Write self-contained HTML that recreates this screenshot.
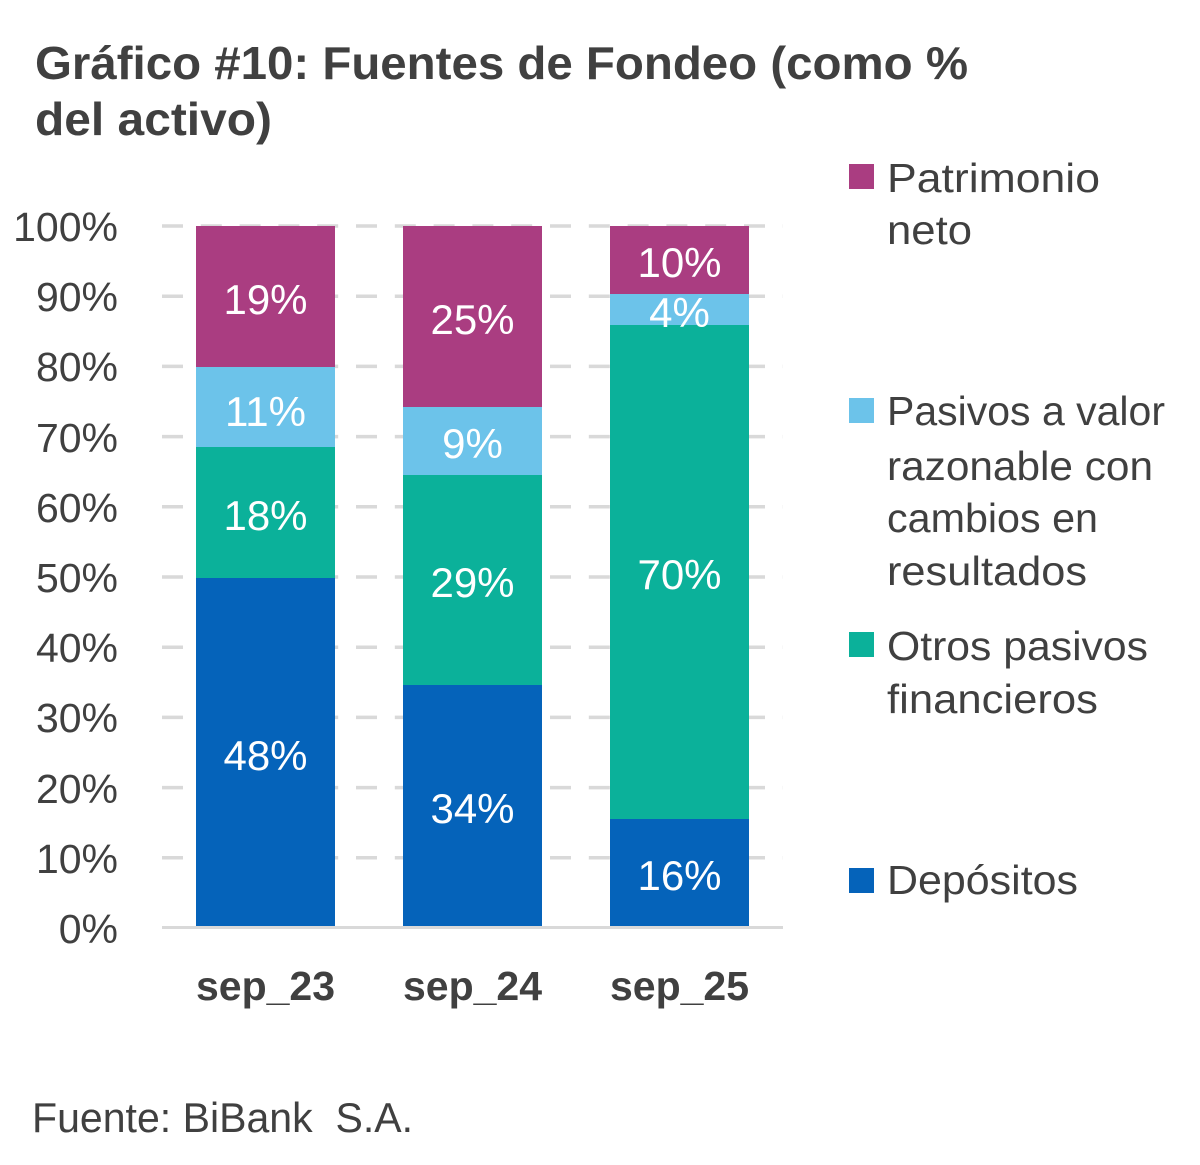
<!DOCTYPE html>
<html>
<head>
<meta charset="utf-8">
<style>
  html,body{margin:0;padding:0;background:#fff;}
  svg{display:block;}
  text{font-family:"Liberation Sans",Arial,sans-serif;}
</style>
</head>
<body>
<svg width="1200" height="1165" viewBox="0 0 1200 1165" xmlns="http://www.w3.org/2000/svg">
  <rect x="0" y="0" width="1200" height="1165" fill="#ffffff"/>

  <!-- Title -->
  <text x="35" y="79" font-size="46" font-weight="bold" fill="#404040" textLength="933" lengthAdjust="spacingAndGlyphs">Gráfico #10: Fuentes de Fondeo (como %</text>
  <text x="35" y="135" font-size="46" font-weight="bold" fill="#404040" textLength="237" lengthAdjust="spacingAndGlyphs">del activo)</text>

  <!-- Gridlines -->
  <g stroke="#d9d9d9" stroke-width="3.5" stroke-dasharray="21 17.8" fill="none">
    <line x1="162" y1="226" x2="783" y2="226"/>
    <line x1="162" y1="296.2" x2="783" y2="296.2"/>
    <line x1="162" y1="366.4" x2="783" y2="366.4"/>
    <line x1="162" y1="436.6" x2="783" y2="436.6"/>
    <line x1="162" y1="506.8" x2="783" y2="506.8"/>
    <line x1="162" y1="577" x2="783" y2="577"/>
    <line x1="162" y1="647.2" x2="783" y2="647.2"/>
    <line x1="162" y1="717.4" x2="783" y2="717.4"/>
    <line x1="162" y1="787.6" x2="783" y2="787.6"/>
    <line x1="162" y1="857.8" x2="783" y2="857.8"/>
  </g>

  <!-- Y tick labels -->
  <g font-size="41" fill="#404040" text-anchor="end">
    <text x="118" y="241">100%</text>
    <text x="118" y="311">90%</text>
    <text x="118" y="381">80%</text>
    <text x="118" y="452">70%</text>
    <text x="118" y="522">60%</text>
    <text x="118" y="592">50%</text>
    <text x="118" y="662">40%</text>
    <text x="118" y="732">30%</text>
    <text x="118" y="803">20%</text>
    <text x="118" y="873">10%</text>
    <text x="118" y="943">0%</text>
  </g>

  <!-- Bars sep_23 -->
  <rect x="196" y="578" width="139" height="348" fill="#0563ba"/>
  <rect x="196" y="447" width="139" height="131" fill="#0bb19a"/>
  <rect x="196" y="367" width="139" height="80" fill="#6cc3ea"/>
  <rect x="196" y="226" width="139" height="141" fill="#aa3d81"/>

  <!-- Bars sep_24 -->
  <rect x="403" y="685" width="139" height="241" fill="#0563ba"/>
  <rect x="403" y="475" width="139" height="210" fill="#0bb19a"/>
  <rect x="403" y="407" width="139" height="68" fill="#6cc3ea"/>
  <rect x="403" y="226" width="139" height="181" fill="#aa3d81"/>

  <!-- Bars sep_25 -->
  <rect x="610" y="819" width="139" height="107" fill="#0563ba"/>
  <rect x="610" y="325" width="139" height="494" fill="#0bb19a"/>
  <rect x="610" y="294" width="139" height="31" fill="#6cc3ea"/>
  <rect x="610" y="226" width="139" height="68" fill="#aa3d81"/>

  <!-- Axis line -->
  <line x1="162" y1="927.5" x2="783" y2="927.5" stroke="#d9d9d9" stroke-width="3"/>

  <!-- Data labels -->
  <g font-size="42" fill="#ffffff" text-anchor="middle">
    <text x="265.5" y="314">19%</text>
    <text x="265.5" y="426">11%</text>
    <text x="265.5" y="530">18%</text>
    <text x="265.5" y="770">48%</text>

    <text x="472.5" y="334">25%</text>
    <text x="472.5" y="458">9%</text>
    <text x="472.5" y="597">29%</text>
    <text x="472.5" y="823">34%</text>

    <text x="679.5" y="277">10%</text>
    <text x="679.5" y="327">4%</text>
    <text x="679.5" y="589">70%</text>
    <text x="679.5" y="890">16%</text>
  </g>

  <!-- X labels -->
  <g font-size="41" font-weight="bold" fill="#404040" text-anchor="middle">
    <text x="265.5" y="1000">sep_23</text>
    <text x="472.5" y="1000">sep_24</text>
    <text x="679.5" y="1000">sep_25</text>
  </g>

  <!-- Legend -->
  <rect x="849" y="164" width="25" height="25" fill="#aa3d81"/>
  <rect x="849" y="398" width="25" height="25" fill="#6cc3ea"/>
  <rect x="849" y="632" width="25" height="25" fill="#0bb19a"/>
  <rect x="849" y="868" width="25" height="25" fill="#0563ba"/>
  <g font-size="41" fill="#404040">
    <text x="887" y="192" textLength="213" lengthAdjust="spacingAndGlyphs">Patrimonio</text>
    <text x="887" y="244" textLength="85" lengthAdjust="spacingAndGlyphs">neto</text>
    <text x="887" y="425" textLength="278" lengthAdjust="spacingAndGlyphs">Pasivos a valor</text>
    <text x="887" y="480" textLength="266" lengthAdjust="spacingAndGlyphs">razonable con</text>
    <text x="887" y="532" textLength="211" lengthAdjust="spacingAndGlyphs">cambios en</text>
    <text x="887" y="585" textLength="200" lengthAdjust="spacingAndGlyphs">resultados</text>
    <text x="887" y="660" textLength="261" lengthAdjust="spacingAndGlyphs">Otros pasivos</text>
    <text x="887" y="713" textLength="211" lengthAdjust="spacingAndGlyphs">financieros</text>
    <text x="887" y="894" textLength="191" lengthAdjust="spacingAndGlyphs">Depósitos</text>
  </g>

  <!-- Footer -->
  <text x="32" y="1132" font-size="42" fill="#404040" xml:space="preserve" textLength="381" lengthAdjust="spacingAndGlyphs">Fuente: BiBank  S.A.</text>
</svg>
</body>
</html>
